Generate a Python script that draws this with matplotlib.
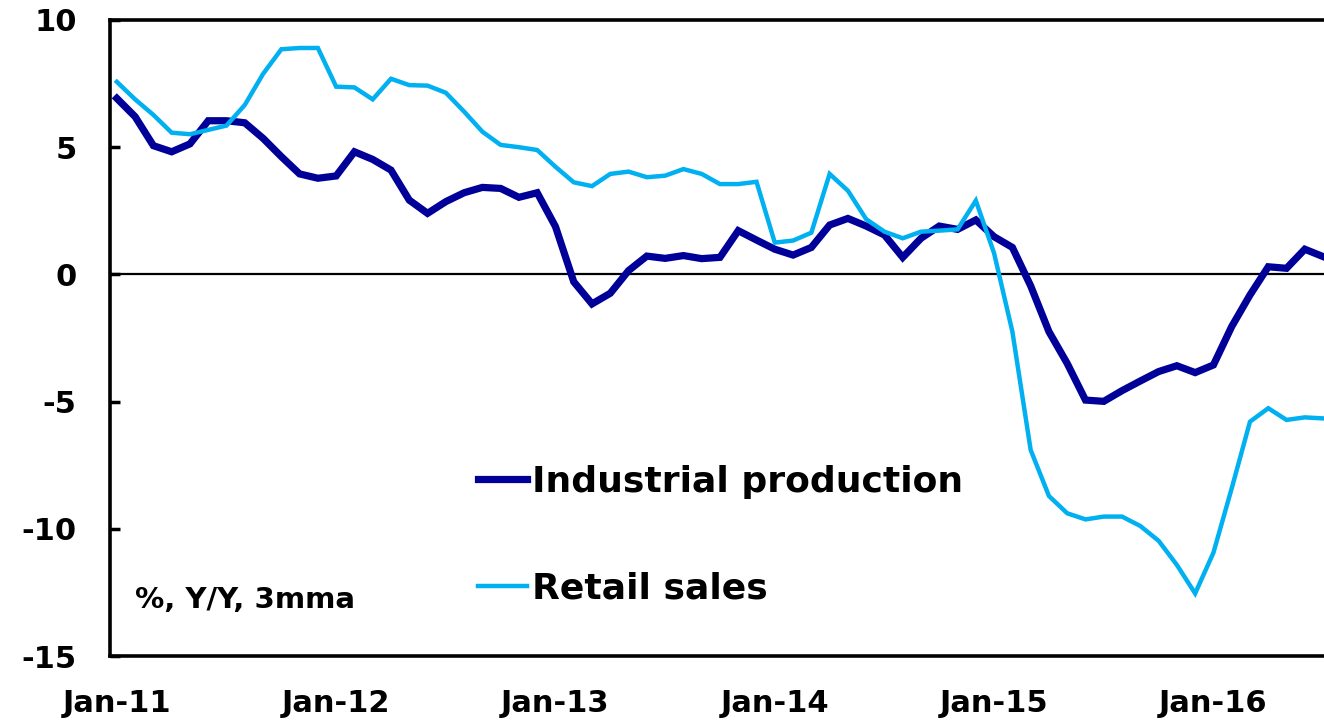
import matplotlib
matplotlib.use("Agg")
import matplotlib.pyplot as plt

# monthly, Jan-11 .. Jul-16, % Y/Y 3mma
industrial = [6.92, 6.20, 5.06, 4.82, 5.13, 6.04, 6.04, 5.96, 5.35, 4.63, 3.95, 3.78,
              3.87, 4.82, 4.52, 4.10, 2.92, 2.40, 2.86, 3.21, 3.42, 3.38, 3.03, 3.21,
              1.88, -0.29, -1.16, -0.74, 0.15, 0.72, 0.63, 0.74, 0.62, 0.67, 1.72, 1.35,
              0.99, 0.76, 1.06, 1.94, 2.20, 1.90, 1.55, 0.67, 1.42, 1.90, 1.77, 2.14,
              1.48, 1.06, -0.45, -2.25, -3.50, -4.94, -4.99, -4.57, -4.19, -3.82, -3.59, -3.86,
              -3.56, -2.05, -0.81, 0.30, 0.24, 0.99, 0.70]
retail = [7.57, 6.88, 6.27, 5.57, 5.51, 5.68, 5.85, 6.66, 7.88, 8.85, 8.90, 8.90,
          7.38, 7.35, 6.88, 7.69, 7.44, 7.42, 7.14, 6.40, 5.61, 5.09, 5.00, 4.89,
          4.23, 3.62, 3.47, 3.95, 4.04, 3.82, 3.88, 4.14, 3.95, 3.55, 3.55, 3.64,
          1.25, 1.33, 1.64, 3.95, 3.29, 2.17, 1.68, 1.42, 1.68, 1.72, 1.77, 2.90,
          0.83, -2.25, -6.90, -8.71, -9.39, -9.63, -9.52, -9.52, -9.89, -10.47, -11.42, -12.54,
          -10.94, -8.41, -5.79, -5.26, -5.72, -5.62, -5.66]
tick_labels = ["Jan-11", "Jan-12", "Jan-13", "Jan-14", "Jan-15", "Jan-16"]
y_ticks = [10, 5, 0, -5, -10, -15]

months = list(range(len(industrial)))

plt.rcParams['font.family'] = ['DejaVu Sans']
plt.rcParams['font.weight'] = 'bold'

fig = plt.figure(figsize=(13.24, 7.22), dpi=100)
ax = fig.add_axes([0.083, 0.0914, 0.917, 0.8809])

ax.plot(months, industrial, color='#000099', lw=5.2, label='Industrial production',
        solid_joinstyle='miter')
ax.plot(months, retail, color='#00B0F0', lw=3.2, label='Retail sales',
        solid_joinstyle='miter')
ax.axhline(0, color='black', lw=1.6, zorder=1)

ax.set_xlim(-0.38, 66.05)
ax.set_ylim(-15, 10)
ax.set_yticks(y_ticks)
ax.set_yticklabels([str(v) for v in y_ticks])
ax.set_xticks(list(range(0, len(industrial), 12)))
ax.set_xticklabels(tick_labels)

ax.tick_params(axis='y', direction='in', length=7, width=2.5, pad=24, labelsize=22)
ax.tick_params(axis='x', length=0, pad=24, labelsize=22)
for lbl in ax.get_xticklabels() + ax.get_yticklabels():
    lbl.set_fontweight('bold')

for side in ['left', 'top', 'bottom']:
    ax.spines[side].set_linewidth(2.6)
ax.spines['right'].set_visible(False)

ax.text(0.021, 0.088, '%, Y/Y, 3mma', transform=ax.transAxes, fontsize=21,
        fontweight='bold', va='center', ha='left')

leg = ax.legend(loc='upper left', bbox_to_anchor=(0.303, 0.301), frameon=False,
                fontsize=26, handlelength=1.36, handletextpad=0.15, labelspacing=2.03,
                borderpad=0, borderaxespad=0)
for t in leg.get_texts():
    t.set_fontweight('bold')

fig.savefig('out.png', dpi=100)
